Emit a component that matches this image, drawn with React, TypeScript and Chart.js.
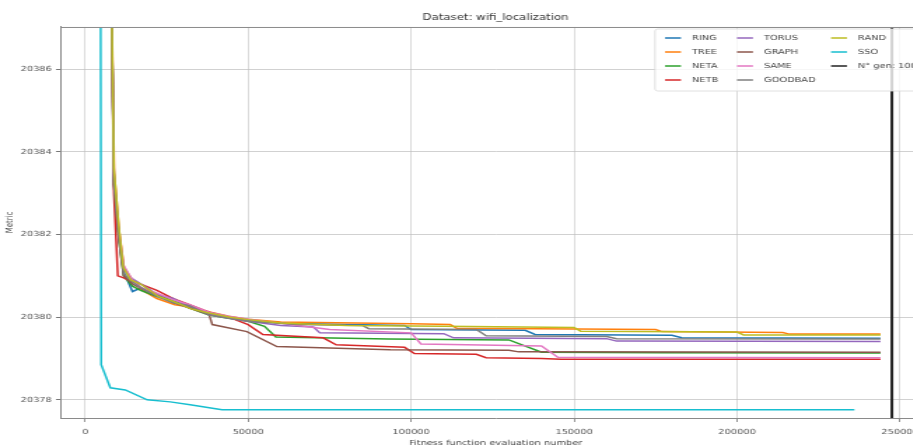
import React, { useEffect, useRef } from "react";
import { Chart, registerables } from "chart.js";

Chart.register(...registerables);

// ---------- data ----------
const TITLE = "Dataset: wifi_localization";
const X_LABEL = "Fitness function evaluation number";
const Y_LABEL = "Metric";
const X_TICKS = [0, 50000, 100000, 150000, 200000, 250000];
const Y_TICKS = [20378, 20380, 20382, 20384, 20386];
const X_MIN = -7670;
const X_MAX = 259500;
const Y_MIN = 20377.56;
const Y_MAX = 20387.02;

const RING_X = [7700, 8800, 10300, 11800, 14500, 17000, 22000, 27000, 32000, 38000, 44000, 50000, 62000, 80000, 98000, 100000, 135000, 138000, 180000, 183000, 244000];
const RING_Y = [20390, 20383.2, 20382.0, 20381.1, 20380.62, 20380.7, 20380.55, 20380.4, 20380.28, 20380.08, 20379.98, 20379.92, 20379.85, 20379.82, 20379.8, 20379.7, 20379.68, 20379.58, 20379.56, 20379.5, 20379.49];

const TREE_X = [7700, 8900, 10400, 11900, 14000, 17500, 22000, 27500, 32000, 38500, 44000, 50000, 60000, 100000, 112000, 114000, 175000, 177000, 214000, 216000, 244000];
const TREE_Y = [20390, 20383.5, 20382.1, 20381.2, 20380.95, 20380.65, 20380.45, 20380.3, 20380.25, 20380.12, 20380.02, 20379.95, 20379.88, 20379.84, 20379.82, 20379.73, 20379.7, 20379.65, 20379.63, 20379.59, 20379.59];

const NETA_X = [7700, 8800, 10300, 11800, 14500, 17000, 22000, 27000, 32000, 38000, 44000, 50000, 55000, 58500, 93000, 130000, 140000, 177000, 244000];
const NETA_Y = [20390, 20383.3, 20381.9, 20381.0, 20380.75, 20380.65, 20380.5, 20380.4, 20380.22, 20380.05, 20379.97, 20379.9, 20379.78, 20379.52, 20379.47, 20379.45, 20379.15, 20379.14, 20379.13];

const NETB_X = [7700, 8800, 10000, 11800, 14500, 17000, 22000, 27000, 32000, 38000, 44000, 50000, 54500, 73000, 77000, 98000, 101000, 120000, 123000, 140000, 146000, 244000];
const NETB_Y = [20390, 20383.0, 20381.0, 20380.95, 20380.85, 20380.8, 20380.65, 20380.45, 20380.3, 20380.12, 20380.0, 20379.82, 20379.58, 20379.5, 20379.33, 20379.27, 20379.12, 20379.1, 20379.02, 20379.0, 20378.98, 20378.98];

const TORUS_X = [7700, 8800, 10300, 11800, 14000, 17500, 22000, 27000, 32000, 38000, 44000, 50000, 60000, 70000, 72000, 110000, 113000, 160000, 163000, 244000];
const TORUS_Y = [20390, 20383.4, 20382.0, 20381.15, 20380.95, 20380.78, 20380.55, 20380.45, 20380.25, 20380.08, 20379.98, 20379.9, 20379.8, 20379.76, 20379.62, 20379.6, 20379.5, 20379.48, 20379.42, 20379.41];

const GRAPH_X = [7700, 8800, 10300, 11800, 14500, 17000, 22000, 27000, 32000, 38000, 39000, 49600, 58800, 93600, 130000, 133000, 244000];
const GRAPH_Y = [20390, 20383.2, 20381.9, 20381.0, 20380.8, 20380.7, 20380.52, 20380.35, 20380.22, 20380.06, 20379.82, 20379.65, 20379.29, 20379.21, 20379.2, 20379.16, 20379.15];

const SAME_X = [7700, 8800, 10300, 11800, 14500, 17000, 22000, 27000, 32000, 38000, 44000, 50000, 60000, 75000, 100000, 103000, 140000, 145000, 244000];
const SAME_Y = [20390, 20383.5, 20382.1, 20381.25, 20380.9, 20380.72, 20380.58, 20380.42, 20380.3, 20380.12, 20380.02, 20379.95, 20379.85, 20379.7, 20379.62, 20379.35, 20379.3, 20379.03, 20379.02];

const GOODBAD_X = [7700, 8800, 10300, 11800, 14500, 17000, 22000, 27000, 32000, 38000, 44000, 50000, 65000, 85000, 87000, 120000, 123000, 160000, 163000, 244000];
const GOODBAD_Y = [20390, 20383.3, 20382.0, 20381.05, 20380.85, 20380.72, 20380.5, 20380.35, 20380.28, 20380.05, 20379.97, 20379.9, 20379.82, 20379.8, 20379.72, 20379.7, 20379.55, 20379.53, 20379.48, 20379.47];

const RAND_X = [7700, 8800, 10300, 11700, 14000, 17000, 22500, 27000, 32500, 38000, 44500, 50000, 60000, 80000, 110000, 150000, 152000, 200000, 202000, 244000];
const RAND_Y = [20390, 20383.6, 20382.2, 20381.2, 20380.9, 20380.8, 20380.5, 20380.38, 20380.2, 20380.1, 20380.0, 20379.94, 20379.86, 20379.8, 20379.78, 20379.75, 20379.66, 20379.64, 20379.57, 20379.57];

const SSO_X = [4500, 4900, 7700, 12300, 19000, 26100, 32200, 40500, 42000, 236000];
const SSO_Y = [20400, 20378.85, 20378.29, 20378.24, 20378.0, 20377.95, 20377.88, 20377.78, 20377.76, 20377.76];

const NGEN_X = [247500, 247500];
const NGEN_Y = [20370, 20395];

const SERIES = [
  { label: "RING", color: "#1f77b4", x: RING_X, y: RING_Y },
  { label: "TREE", color: "#ff7f0e", x: TREE_X, y: TREE_Y },
  { label: "NETA", color: "#2ca02c", x: NETA_X, y: NETA_Y },
  { label: "NETB", color: "#d62728", x: NETB_X, y: NETB_Y },
  { label: "TORUS", color: "#9467bd", x: TORUS_X, y: TORUS_Y },
  { label: "GRAPH", color: "#8c564b", x: GRAPH_X, y: GRAPH_Y },
  { label: "SAME", color: "#e377c2", x: SAME_X, y: SAME_Y },
  { label: "GOODBAD", color: "#7f7f7f", x: GOODBAD_X, y: GOODBAD_Y },
  { label: "RAND", color: "#bcbd22", x: RAND_X, y: RAND_Y },
  { label: "SSO", color: "#17becf", x: SSO_X, y: SSO_Y },
  { label: "N\u00b0 gen: 100", color: "#222222", x: NGEN_X, y: NGEN_Y, width: 2 },
];

// ---------- layout ----------
const S = 1.4; // horizontal stretch of the figure
const FONT = '"DejaVu Sans", "Liberation Sans", sans-serif';
const CANVAS_W = 665;
const CANVAS_H = 448;

const legendPlugin = {
  id: "mplLegend",
  afterDatasetsDraw(chart: any) {
    const ctx = chart.ctx as CanvasRenderingContext2D;
    const ca = chart.chartArea;
    ctx.save();
    // top frame line
    ctx.strokeStyle = "#8a8a8a";
    ctx.lineWidth = 1;
    ctx.beginPath();
    ctx.moveTo(ca.left, ca.top + 0.5);
    ctx.lineTo(ca.right, ca.top + 0.5);
    ctx.stroke();

    const bx = 655 / S, by = 29, bw = 272 / S, bh = 62, r = 2;
    ctx.beginPath();
    ctx.moveTo(bx + r, by);
    ctx.lineTo(bx + bw - r, by);
    ctx.quadraticCurveTo(bx + bw, by, bx + bw, by + r);
    ctx.lineTo(bx + bw, by + bh - r);
    ctx.quadraticCurveTo(bx + bw, by + bh, bx + bw - r, by + bh);
    ctx.lineTo(bx + r, by + bh);
    ctx.quadraticCurveTo(bx, by + bh, bx, by + bh - r);
    ctx.lineTo(bx, by + r);
    ctx.quadraticCurveTo(bx, by, bx + r, by);
    ctx.closePath();
    ctx.globalAlpha = 0.8;
    ctx.fillStyle = "#ffffff";
    ctx.fill();
    ctx.globalAlpha = 1;
    ctx.strokeStyle = "#d8d8d8";
    ctx.lineWidth = 0.8;
    ctx.stroke();

    const textX = [692 / S, 764 / S, 858 / S];
    ctx.font = `7px ${FONT}`;
    ctx.textBaseline = "middle";
    ctx.textAlign = "left";
    SERIES.forEach((s, i) => {
      const col = Math.floor(i / 4);
      const row = i % 4;
      const ty = 38 + row * 14;
      const tx = textX[col];
      ctx.strokeStyle = s.color;
      ctx.lineWidth = 1.5;
      ctx.beginPath();
      ctx.moveTo(tx - 27 / S, ty);
      ctx.lineTo(tx - 11 / S, ty);
      ctx.stroke();
      ctx.fillStyle = "#444";
      ctx.fillText(s.label, tx, ty);
    });
    ctx.restore();
  },
};

export default function App() {
  const ref = useRef<HTMLCanvasElement | null>(null);

  useEffect(() => {
    if (!ref.current) return;
    const n = SERIES.length;
    const chart = new Chart(ref.current, {
      type: "line",
      data: {
        datasets: SERIES.map((s, i) => ({
          label: s.label,
          data: s.x.map((xv, k) => ({ x: xv, y: s.y[k] })),
          borderColor: s.color,
          backgroundColor: s.color,
          borderWidth: (s as any).width ?? 1.5,
          pointRadius: 0,
          fill: false,
          tension: 0,
          order: n - i,
        })),
      },
      options: {
        responsive: false,
        animation: false,
        devicePixelRatio: 1,
        layout: { padding: 0 },
        plugins: {
          legend: { display: false },
          tooltip: { enabled: false },
          title: {
            display: true,
            text: TITLE,
            fullSize: false,
            color: "#333",
            font: { family: FONT, size: 8.4, weight: "normal" },
            padding: { top: 13, bottom: 3.9 },
          },
        },
        scales: {
          x: {
            type: "linear",
            min: X_MIN,
            max: X_MAX,
            afterBuildTicks: (scale: any) => {
              scale.ticks = X_TICKS.map((v) => ({ value: v }));
            },
            afterFit: (scale: any) => {
              scale.height = 30;
            },
            ticks: {
              color: "#555",
              font: { family: FONT, size: 7 },
              padding: 6,
              maxRotation: 0,
              autoSkip: false,
              callback: (v: any) => String(v),
            },
            grid: {
              color: "rgba(190,190,190,0.7)",
              lineWidth: 0.8,
              tickColor: "#777",
              tickLength: 4,
            },
            border: { display: true, color: "#8a8a8a", width: 1 },
            title: {
              display: true,
              text: X_LABEL,
              color: "#444",
              font: { family: FONT, size: 7 },
              padding: { top: 0, bottom: 0.5 },
            },
          },
          y: {
            type: "linear",
            min: Y_MIN,
            max: Y_MAX,
            afterBuildTicks: (scale: any) => {
              scale.ticks = Y_TICKS.map((v) => ({ value: v }));
            },
            afterFit: (scale: any) => {
              scale.width = 43;
            },
            ticks: {
              color: "#555",
              font: { family: FONT, size: 7 },
              padding: 3,
              callback: (v: any) => String(v),
            },
            grid: {
              color: "rgba(190,190,190,0.7)",
              lineWidth: 1,
              tickColor: "#777",
              tickLength: 3,
            },
            border: { display: true, color: "#8a8a8a", width: 1 },
            title: {
              display: true,
              text: Y_LABEL,
              color: "#444",
              font: { family: FONT, size: 7 },
              padding: { top: 3, bottom: 0 },
            },
          },
        },
      },
      plugins: [legendPlugin],
    });
    return () => chart.destroy();
  }, []);

  return (
    <div
      style={{
        position: "absolute",
        left: 0,
        top: 0,
        width: 913,
        height: 448,
        overflow: "hidden",
        background: "#fff",
      }}
    >
      <canvas
        ref={ref}
        width={CANVAS_W}
        height={CANVAS_H}
        style={{
          position: "absolute",
          left: 0,
          top: 0,
          transform: `scaleX(${S})`,
          transformOrigin: "0 0",
        }}
      />
    </div>
  );
}
